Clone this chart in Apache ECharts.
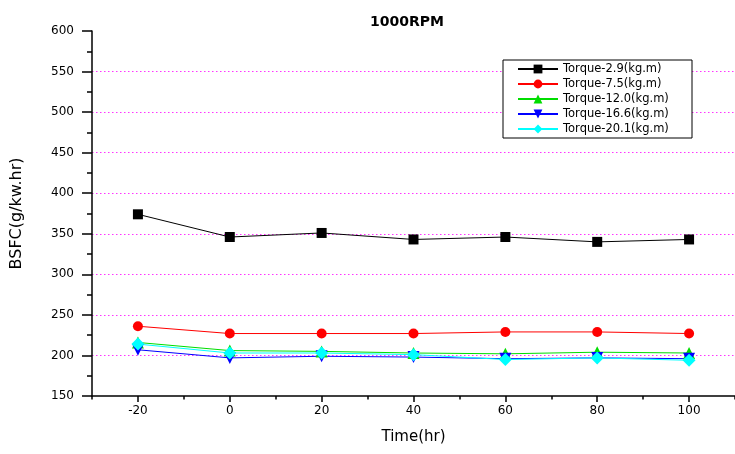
<!DOCTYPE html>
<html>
<head>
<meta charset="utf-8">
<script src="https://cdn.jsdelivr.net/npm/echarts@6/dist/echarts.min.js"></script>
<style>
  html, body { margin: 0; padding: 0; background: #fff; }
  #chart { width: 735px; height: 454px; }
</style>
</head>
<body>
<div id="chart"></div>
<script>
// Engine test: BSFC at 1000 RPM over running time, one line per torque load
const times = [-20, 0, 20, 40, 60, 80, 100];
const xTickValues = [-20, 0, 20, 40, 60, 80, 100];
const xMinorTickValues = [-30, -10, 10, 30, 50, 70, 90, 110];

const torque29 = [374, 346, 351, 343, 346, 340, 343];
const torque75 = [236, 227, 227, 227, 229, 229, 227];
const torque120 = [216, 206, 205, 203, 202, 204, 203];
const torque166 = [207, 197, 199, 198, 196, 197, 196];
const torque201 = [214, 203, 203, 201, 195, 197, 194];

const seriesNames = [
  'Torque-2.9(kg.m)',
  'Torque-7.5(kg.m)',
  'Torque-12.0(kg.m)',
  'Torque-16.6(kg.m)',
  'Torque-20.1(kg.m)'
];

const pairs = (ys) => times.map((t, i) => [t, ys[i]]);

const chart = echarts.init(document.getElementById('chart'), null, { renderer: 'canvas' });

const lineSeries = (name, ys, color, symbol, size, rotate) => ({
  name: name,
  type: 'line',
  data: pairs(ys),
  symbol: symbol,
  symbolSize: size,
  symbolRotate: rotate || 0,
  showAllSymbol: true,
  lineStyle: { color: color, width: 1 },
  itemStyle: { color: color, borderWidth: 0 },
  emphasis: { disabled: true },
  animation: false
});

chart.setOption({
  animation: false,
  backgroundColor: '#ffffff',
  title: {
    text: '1000RPM',
    left: 402,
    top: 10,
    textAlign: 'center',
    textStyle: { fontFamily: 'DejaVu Sans', fontWeight: 'bold', fontSize: 14, color: '#000' }
  },
  legend: {
    orient: 'vertical',
    left: 503,
    top: 60,
    padding: [3, 6, 3, 14],
    itemWidth: 40,
    itemHeight: 11,
    itemGap: 3,
    backgroundColor: '#fff',
    borderColor: '#000',
    borderWidth: 1,
    textStyle: { fontFamily: 'DejaVu Sans', fontSize: 11.5, color: '#000', lineHeight: 11, width: 123 },
    data: seriesNames
  },
  grid: { left: 92, top: 31, width: 646, bottom: 58, containLabel: false },
  xAxis: [{
    type: 'value',
    min: -30,
    max: 110,
    interval: 10,
    name: 'Time(hr)',
    nameLocation: 'middle',
    nameGap: 34,
    nameTextStyle: { fontFamily: 'DejaVu Sans', fontSize: 15, color: '#000' },
    axisLine: { show: true, onZero: false, lineStyle: { color: '#000', width: 1.5 } },
    axisTick: { show: true, customValues: xTickValues, length: 6, inside: false, lineStyle: { color: '#000', width: 1.5 } },
    axisLabel: { customValues: xTickValues, margin: 9, fontFamily: 'DejaVu Sans', fontSize: 12, color: '#000' },
    splitLine: { show: false }
  }, {
    type: 'value',
    min: -30,
    max: 110,
    interval: 10,
    position: 'bottom',
    axisLine: { show: false, onZero: false },
    axisTick: { show: true, customValues: xMinorTickValues, length: 3.5, lineStyle: { color: '#000', width: 1.5 } },
    axisLabel: { show: false },
    splitLine: { show: false }
  }],
  yAxis: {
    type: 'value',
    min: 150,
    max: 600,
    interval: 50,
    name: 'BSFC(g/kw.hr)',
    nameLocation: 'middle',
    nameRotate: 90,
    nameGap: 67,
    nameTextStyle: { fontFamily: 'DejaVu Sans', fontSize: 16, color: '#000' },
    axisLine: { show: true, onZero: false, lineStyle: { color: '#000', width: 1.5 } },
    axisTick: { show: true, length: 10, lineStyle: { color: '#000', width: 1.5 } },
    minorTick: { show: true, splitNumber: 2, length: 5, lineStyle: { color: '#000', width: 1.5 } },
    axisLabel: { margin: 18, fontFamily: 'DejaVu Sans', fontSize: 12, color: '#000' },
    splitLine: { show: true, showMinLine: false, showMaxLine: false, lineStyle: { color: '#ff33ff', type: [1.5, 2.5], width: 1 } }
  },
  series: [
    lineSeries(seriesNames[0], torque29, '#000000', 'rect', 10),
    lineSeries(seriesNames[1], torque75, '#ff0000', 'circle', 10),
    lineSeries(seriesNames[2], torque120, '#00dd00', 'triangle', 12),
    lineSeries(seriesNames[3], torque166, '#0000ff', 'triangle', 12, 180),
    lineSeries(seriesNames[4], torque201, '#00ffff', 'diamond', 13)
  ]
});
</script>
</body>
</html>
